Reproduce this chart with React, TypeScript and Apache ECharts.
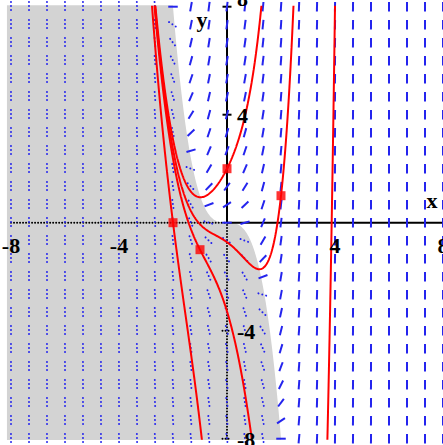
import { useEffect, useRef } from "react";
import * as echarts from "echarts";

// Differential equation dy/dx = x^3 + y
const slope = (x: number, y: number): number => x ** 3 + y;

// Direction-field sample positions, in thirds (every 2/3 from -8 to 8)
const fieldThirds = [
  -24, -22, -20, -18, -16, -14, -12, -10, -8, -6, -4, -2, 0,
  2, 4, 6, 8, 10, 12, 14, 16, 18, 20, 22, 24,
];
const fieldXs = fieldThirds.map((v) => v / 3);
const fieldYs = fieldThirds.map((v) => v / 3);

// Initial conditions of the drawn solutions
const markedStarts: [number, number][] = [
  [0, 2],
  [2, 1],
  [-2, 0],
  [-1, -1],
];
const unmarkedStarts: [number, number][] = [[4, 8]];

// Tick labels
const xTickValues = [-8, -4, 4, 8];
const xTickLabels = ["-8", "-4", "4", "8"];
const yTickValues = [-8, -4, 4, 8];
const yTickLabels = ["-8", "-4", "4", "8"];
const axisNames = ["x", "y"];

const AXIS_MIN = -8;
const AXIS_MAX = 8;

const FIELD_COLOR = "#2424ee";
const CURVE_COLOR = "#ff0000";
const SHADE_COLOR = "#d3d3d3";
const LABEL_FONT = 'bold 22px "Liberation Serif"';

// Runge-Kutta integration of the equation from (x0, y0) in one direction
function integrate(x0: number, y0: number, dir: number): [number, number][] {
  const h = 0.003 * dir;
  const pts: [number, number][] = [];
  let x = x0;
  let y = y0;
  for (let i = 0; i < 8000; i++) {
    const k1 = slope(x, y);
    const k2 = slope(x + h / 2, y + (h / 2) * k1);
    const k3 = slope(x + h / 2, y + (h / 2) * k2);
    const k4 = slope(x + h, y + h * k3);
    y += (h / 6) * (k1 + 2 * k2 + 2 * k3 + k4);
    x += h;
    pts.push([x, y]);
    if (Math.abs(y) > 10 || x < -8.5 || x > 8.5) break;
  }
  return pts;
}

function solutionThrough(start: [number, number]): [number, number][] {
  const back = integrate(start[0], start[1], -1).reverse();
  const fwd = integrate(start[0], start[1], 1);
  return [...back, [start[0], start[1]], ...fwd];
}

export default function App() {
  const ref = useRef<HTMLDivElement>(null);

  useEffect(() => {
    if (!ref.current) return;
    const chart = echarts.init(ref.current, null, { renderer: "svg" });

    const fieldData: [number, number][] = [];
    for (const x of fieldXs) for (const y of fieldYs) fieldData.push([x, y]);

    const curves = [...markedStarts, ...unmarkedStarts].map((s) => ({
      type: "line",
      data: solutionThrough(s),
      showSymbol: false,
      clip: true,
      silent: true,
      z: 4,
      lineStyle: { color: CURVE_COLOR, width: 2 },
    }));

    const solid = { stroke: "#000", lineWidth: 2 };
    const dotted = { stroke: "#000", lineWidth: 2, lineDash: [0.01, 3], lineCap: "round" };

    const option: any = {
      animation: false,
      backgroundColor: "#ffffff",
      grid: { left: 11, top: 6.7, width: 432, height: 432, containLabel: false },
      xAxis: { type: "value", min: AXIS_MIN, max: AXIS_MAX, show: false },
      yAxis: { type: "value", min: AXIS_MIN, max: AXIS_MAX, show: false },
      graphic: [
        {
          type: "group",
          x: 112,
          y: 99,
          z: 100,
          children: [
            { type: "line", shape: { x1: -6, y1: 0, x2: 6, y2: 0 }, style: { stroke: "#000", lineWidth: 1.5 } },
            { type: "line", shape: { x1: 0, y1: -6, x2: 0, y2: 6 }, style: { stroke: "#000", lineWidth: 1.5 } },
          ],
        },
      ],
      series: [
        // region where the slope is negative
        {
          type: "custom",
          silent: true,
          z: 1,
          data: [[0, 0]],
          renderItem: (_p: any, api: any) => {
            const top = 8.05;
            const bot = -8.05;
            const left = -8.15;
            const pts: number[][] = [api.coord([left, top])];
            const n = 400;
            for (let i = 0; i <= n; i++) {
              const y = top - ((top - bot) * i) / n;
              pts.push(api.coord([-Math.cbrt(y), y]));
            }
            pts.push(api.coord([left, bot]));
            return { type: "polygon", shape: { points: pts }, style: { fill: SHADE_COLOR } };
          },
        },
        // coordinate axes: dotted inside the shaded region
        {
          type: "custom",
          silent: true,
          z: 2,
          data: [[0, 0]],
          renderItem: (_p: any, api: any) => {
            const o = api.coord([0, 0]);
            const xl = api.coord([AXIS_MIN, 0]);
            const xr = api.coord([AXIS_MAX, 0]);
            const yt = api.coord([0, AXIS_MAX]);
            const yb = api.coord([0, AXIS_MIN]);
            const children: any[] = [
              { type: "line", shape: { x1: xl[0], y1: o[1], x2: o[0], y2: o[1] }, style: dotted },
              { type: "line", shape: { x1: o[0], y1: o[1], x2: xr[0], y2: o[1] }, style: solid },
              { type: "line", shape: { x1: o[0], y1: o[1], x2: o[0], y2: yt[1] }, style: solid },
              { type: "line", shape: { x1: o[0], y1: yb[1], x2: o[0], y2: o[1] }, style: dotted },
            ];
            for (const v of yTickValues) {
              const c = api.coord([0, v]);
              children.push({
                type: "line",
                shape: { x1: c[0] - 4.5, y1: c[1], x2: c[0] + 4.5, y2: c[1] },
                style: slope(0, v) < 0 ? dotted : solid,
              });
            }
            return { type: "group", children };
          },
        },
        // direction field
        {
          type: "custom",
          silent: true,
          z: 3,
          data: fieldData,
          renderItem: (_p: any, api: any) => {
            const x = api.value(0);
            const y = api.value(1);
            const m = slope(x, y);
            const c = api.coord([x, y]);
            const s = api.size([1, 1]);
            let dx = s[0];
            let dy = -s[1] * m;
            const len = Math.hypot(dx, dy);
            dx /= len;
            dy /= len;
            const half = 4.75;
            const style =
              m < 0
                ? { stroke: FIELD_COLOR, lineWidth: 2, lineDash: [0.01, 4], lineCap: "round" }
                : { stroke: FIELD_COLOR, lineWidth: 2 };
            return {
              type: "line",
              shape: { x1: c[0] - dx * half, y1: c[1] - dy * half, x2: c[0] + dx * half, y2: c[1] + dy * half },
              style,
            };
          },
        },
        ...curves,
        // initial points
        {
          type: "scatter",
          silent: true,
          z: 5,
          data: markedStarts,
          symbol: "rect",
          symbolSize: 9,
          itemStyle: { color: CURVE_COLOR },
        },
        // x tick labels
        {
          type: "custom",
          silent: true,
          z: 6,
          data: xTickValues.map((v) => [v, 0]),
          renderItem: (p: any, api: any) => {
            const c = api.coord([api.value(0), 0]);
            return {
              type: "text",
              x: c[0],
              y: c[1] + 23,
              style: {
                text: xTickLabels[p.dataIndex],
                fill: "#000",
                font: LABEL_FONT,
                align: "center",
                verticalAlign: "middle",
              },
            };
          },
        },
        // y tick labels
        {
          type: "custom",
          silent: true,
          z: 6,
          data: yTickValues.map((v) => [0, v]),
          renderItem: (p: any, api: any) => {
            const v = api.value(1);
            const c = api.coord([0, v]);
            const lift = v === AXIS_MAX ? 9 : 0;
            return {
              type: "text",
              x: c[0] + 10,
              y: c[1] + 1 - lift,
              style: {
                text: yTickLabels[p.dataIndex],
                fill: "#000",
                font: LABEL_FONT,
                align: "left",
                verticalAlign: "middle",
              },
            };
          },
        },
        // axis names
        {
          type: "custom",
          silent: true,
          z: 6,
          data: [[0, 0]],
          renderItem: (_p: any, api: any) => {
            const o = api.coord([0, 0]);
            const xr = api.coord([AXIS_MAX, 0]);
            const yt = api.coord([0, AXIS_MAX]);
            return {
              type: "group",
              children: [
                {
                  type: "text",
                  x: xr[0] - 11,
                  y: o[1] - 22,
                  style: { text: axisNames[0], fill: "#000", font: LABEL_FONT, align: "center", verticalAlign: "middle" },
                },
                {
                  type: "text",
                  x: yt[0] - 25,
                  y: yt[1] + 13,
                  style: { text: axisNames[1], fill: "#000", font: LABEL_FONT, align: "center", verticalAlign: "middle" },
                },
              ],
            };
          },
        },
      ],
    };

    chart.setOption(option);
    return () => chart.dispose();
  }, []);

  return (
    <div
      ref={ref}
      style={{ position: "absolute", left: 0, top: 0, width: 443, height: 445 }}
    />
  );
}
